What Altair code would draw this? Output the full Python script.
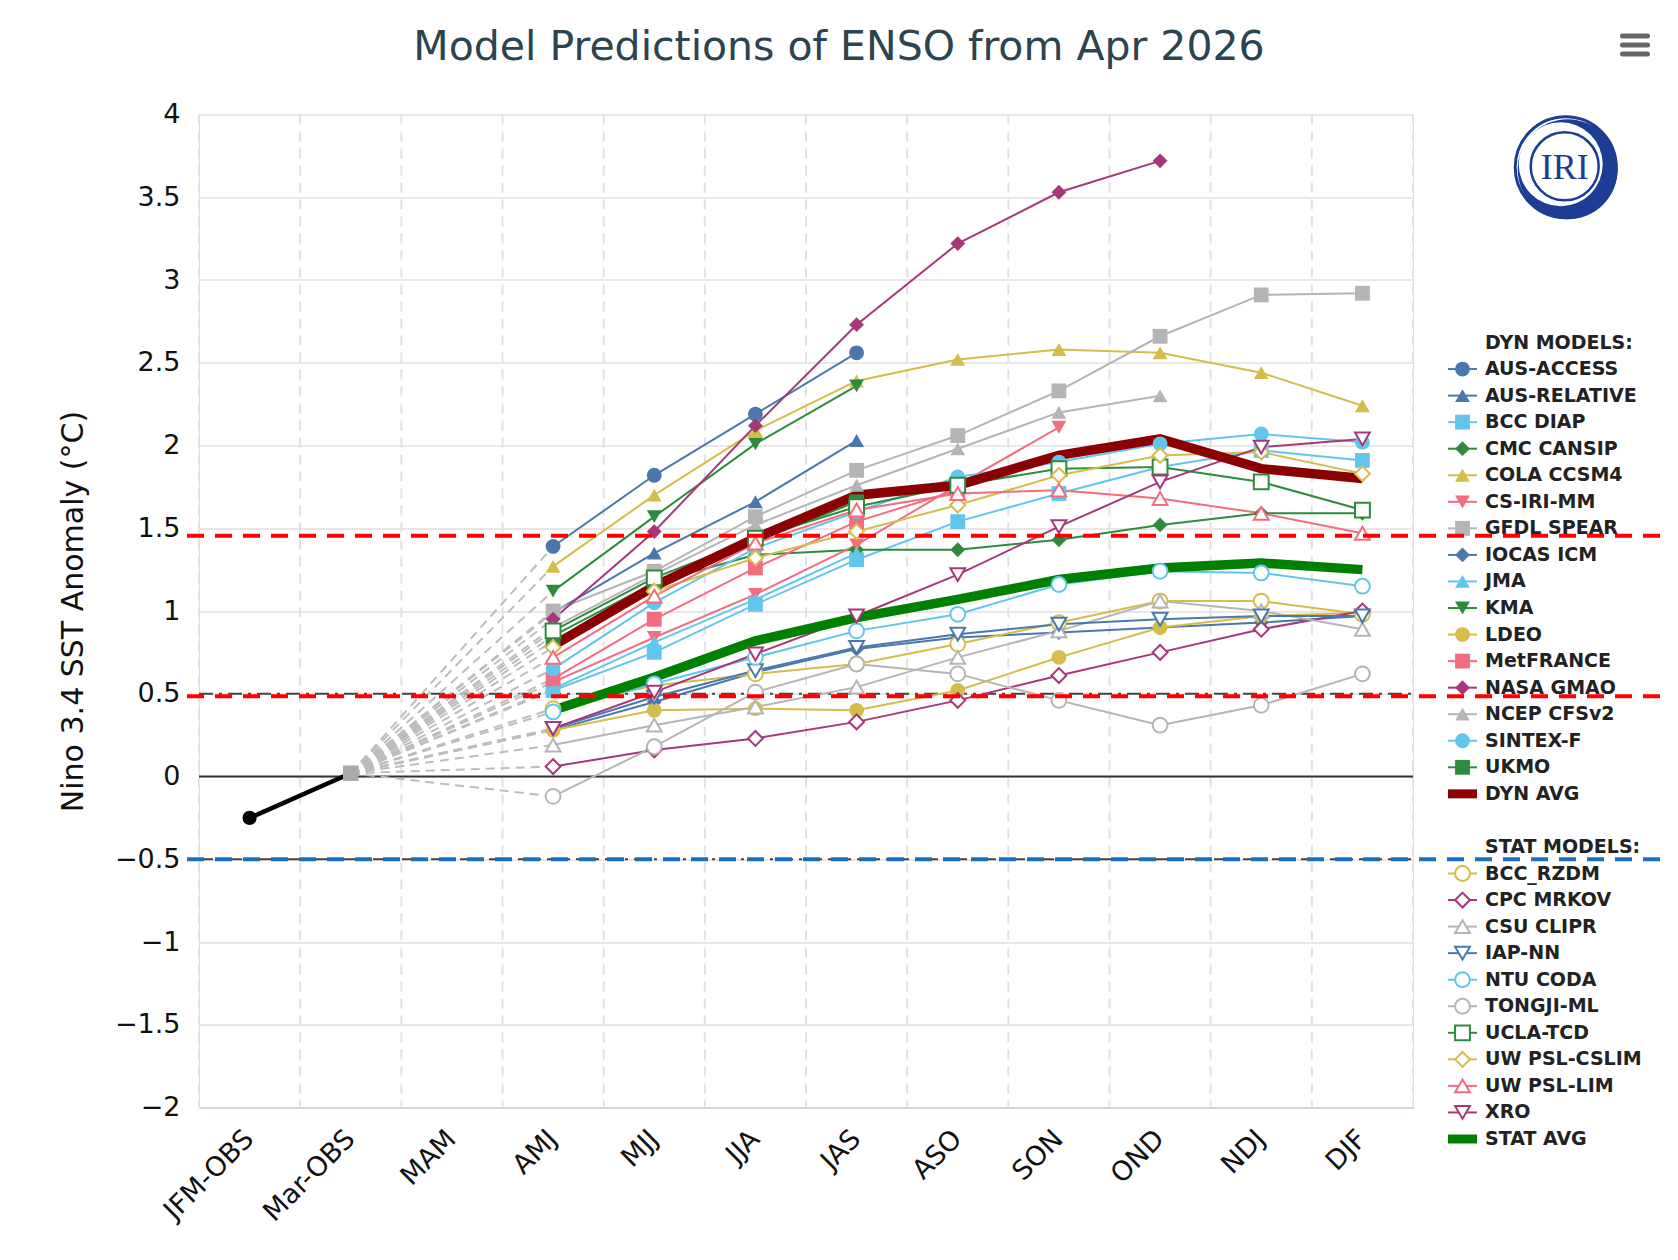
import altair as alt
import pandas as pd

# ---------------- data ----------------
seasons = ["JFM-OBS", "Mar-OBS", "MAM", "AMJ", "MJJ", "JJA", "JAS", "ASO", "SON", "OND", "NDJ", "DJF"]
forecast_seasons = ["AMJ", "MJJ", "JJA", "JAS", "ASO", "SON", "OND", "NDJ", "DJF"]
obs_seasons = ["JFM-OBS", "Mar-OBS"]
obs_values = [-0.25, 0.02]

BLUE, CYAN, GREEN, YELLOW = "#4a78ad", "#62c6ec", "#2e8b3e", "#d4bd4a"
PINK, GRAY, MAGENTA = "#f26d80", "#b5b5b5", "#a8367a"

dyn_models = ["AUS-ACCESS", "AUS-RELATIVE", "BCC DIAP", "CMC CANSIP", "COLA CCSM4", "CS-IRI-MM",
              "GFDL SPEAR", "IOCAS ICM", "JMA", "KMA", "LDEO", "MetFRANCE", "NASA GMAO",
              "NCEP CFSv2", "SINTEX-F", "UKMO"]
dyn_values = [
    [1.39, 1.82, 2.19, 2.56],
    [0.99, 1.35, 1.66, 2.03],
    [0.52, 0.75, 1.04, 1.31, 1.54, 1.71, 1.87, 1.97, 1.91],
    [0.85, 1.17, 1.34, 1.37, 1.37, 1.43, 1.52, 1.59, 1.59],
    [1.27, 1.70, 2.09, 2.39, 2.52, 2.58, 2.56, 2.44, 2.24],
    [0.57, 0.84, 1.10, 1.40, 1.76, 2.11],
    [1.00, 1.24, 1.57, 1.85, 2.06, 2.33, 2.66, 2.91, 2.92],
    [0.28, 0.45, 0.63, 0.77, 0.84, 0.87, 0.90, 0.93, 0.97],
    [0.53, 0.81, 1.07, 1.35],
    [1.12, 1.57, 2.01, 2.36],
    [0.28, 0.40, 0.41, 0.40, 0.52, 0.72, 0.90, 0.97, 0.99],
    [0.59, 0.95, 1.26, 1.54, 1.73],
    [0.95, 1.48, 2.12, 2.73, 3.22, 3.53, 3.72],
    [0.90, 1.22, 1.52, 1.76, 1.98, 2.20, 2.30],
    [0.65, 1.05, 1.38, 1.60, 1.81, 1.90, 2.01, 2.07, 2.02],
    [0.82, 1.15, 1.42, 1.66],
]
dyn_colors = [BLUE, BLUE, CYAN, GREEN, YELLOW, PINK, GRAY, BLUE, CYAN, GREEN, YELLOW, PINK,
              MAGENTA, GRAY, CYAN, GREEN]
dyn_shapes = ["circle", "triangle-up", "square", "diamond", "triangle-up", "triangle-down", "square",
              "diamond", "triangle-up", "triangle-down", "circle", "square", "diamond", "triangle-up",
              "circle", "square"]

stat_models = ["BCC_RZDM", "CPC MRKOV", "CSU CLIPR", "IAP-NN", "NTU CODA", "TONGJI-ML",
               "UCLA-TCD", "UW PSL-CSLIM", "UW PSL-LIM", "XRO"]
stat_values = [
    [0.41, 0.55, 0.62, 0.68, 0.80, 0.93, 1.06, 1.06, 0.98],
    [0.06, 0.16, 0.23, 0.33, 0.46, 0.61, 0.75, 0.89, 1.00],
    [0.19, 0.31, 0.42, 0.54, 0.72, 0.88, 1.06, 1.00, 0.89],
    [0.29, 0.48, 0.64, 0.78, 0.86, 0.92, 0.95, 0.97, 0.97],
    [0.39, 0.56, 0.72, 0.88, 0.98, 1.16, 1.24, 1.23, 1.15],
    [-0.12, 0.18, 0.51, 0.68, 0.62, 0.46, 0.31, 0.43, 0.62],
    [0.88, 1.20, 1.44, 1.63, 1.76, 1.86, 1.87, 1.78, 1.61],
    [0.78, 1.12, 1.32, 1.48, 1.64, 1.82, 1.94, 1.96, 1.83],
    [0.72, 1.09, 1.41, 1.61, 1.71, 1.73, 1.68, 1.59, 1.47],
    [0.29, 0.51, 0.74, 0.97, 1.22, 1.51, 1.78, 1.99, 2.04],
]
stat_colors = [YELLOW, MAGENTA, GRAY, BLUE, CYAN, GRAY, GREEN, YELLOW, PINK, MAGENTA]
stat_shapes = ["circle", "diamond", "triangle-up", "triangle-down", "circle", "circle", "square",
               "diamond", "triangle-up", "triangle-down"]

avg_names = ["DYN AVG", "STAT AVG"]
avg_values = [
    [0.79, 1.15, 1.44, 1.70, 1.76, 1.94, 2.04, 1.86, 1.80],
    [0.40, 0.60, 0.82, 0.96, 1.07, 1.19, 1.26, 1.29, 1.25],
]
avg_colors = ["#8b0000", "#008000"]

y_ticks = [4, 3.5, 3, 2.5, 2, 1.5, 1, 0.5, 0, -0.5, -1, -1.5, -2]
enso_thresholds = [0.5, -0.5]
red_marks = [1.455, 0.485]
blue_marks = [-0.5]

title_text = "Model Predictions of ENSO from Apr 2026"
y_title = "Nino 3.4 SST Anomaly (°C)"

# ---------------- tables ----------------
line_rows = []
for names, vals in ((dyn_models, dyn_values), (stat_models, stat_values)):
    for n, vs in zip(names, vals):
        for i, (s, v) in enumerate(zip(forecast_seasons, vs)):
            line_rows.append({"series": n, "season": s, "value": v, "idx": i})
lines_df = pd.DataFrame(line_rows)
dyn_df = lines_df[lines_df.series.isin(dyn_models)]
stat_df = lines_df[lines_df.series.isin(stat_models)]

avg_rows = []
for n, vs in zip(avg_names, avg_values):
    for i, (s, v) in enumerate(zip(forecast_seasons, vs)):
        avg_rows.append({"series": n, "season": s, "value": v, "idx": i})
avg_df = pd.DataFrame(avg_rows)

fan_rows = []
for names, vals in ((dyn_models, dyn_values), (stat_models, stat_values)):
    for n, vs in zip(names, vals):
        fan_rows.append({"series": n, "season": obs_seasons[-1], "value": obs_values[-1], "idx": 0})
        fan_rows.append({"series": n, "season": forecast_seasons[0], "value": vs[0], "idx": 1})
fan_df = pd.DataFrame(fan_rows)

obs_df = pd.DataFrame({"season": obs_seasons, "value": obs_values, "idx": [0, 1]})
grid_df = pd.DataFrame({"season": seasons})
grid_end_df = pd.DataFrame({"season": seasons[-1:]})
enso_df = pd.DataFrame({"value": enso_thresholds})
zero_df = pd.DataFrame({"value": [0]})
red_df = pd.DataFrame({"value": red_marks})
blue_df = pd.DataFrame({"value": blue_marks})

all_names = dyn_models + stat_models + avg_names
all_colors = dyn_colors + stat_colors + avg_colors
model_names = dyn_models + stat_models
model_shapes = dyn_shapes + stat_shapes

# legend table (row index -> position through its own scale)
leg_rows = [{"label": "DYN MODELS:", "row": 0, "series": "", "kind": "header"}]
for i, n in enumerate(dyn_models + [avg_names[0]]):
    leg_rows.append({"label": n, "row": i + 1, "series": n,
                     "kind": "avg" if n in avg_names else "dyn"})
stat_start = len(dyn_models) + 3
leg_rows.append({"label": "STAT MODELS:", "row": stat_start, "series": "", "kind": "header"})
for i, n in enumerate(stat_models + [avg_names[1]]):
    leg_rows.append({"label": n, "row": stat_start + i + 1, "series": n,
                     "kind": "avg" if n in avg_names else "stat"})
leg_df = pd.DataFrame(leg_rows)
leg_last = int(leg_df.row.max())

# ---------------- encodings ----------------
FONT = "DejaVu Sans"
W, H = 1214, 993

x_scale = alt.Scale(type="band", domain=seasons, paddingInner=0, paddingOuter=0)
x_axis = alt.Axis(labelAngle=-45, labelAlign="right", labelBaseline="middle", labelFontSize=27,
                  labelColor="#111", labelPadding=27, ticks=False, tickSize=0,
                  domainColor="#ccd6eb", domainWidth=2, grid=False, labelFont=FONT)
y_scale = alt.Scale(domain=[-2, 4], nice=False, zero=False)
y_axis = alt.Axis(values=y_ticks, format=".1~f", labelFontSize=27, labelColor="#111",
                  labelPadding=19, ticks=False, domain=False, grid=True, gridColor="#e8e8e8",
                  gridWidth=2, labelFont=FONT, titleFont=FONT, titleFontSize=30,
                  titleFontWeight="normal", titleColor="#111", titleX=-126, titleY=H / 2,
                  titleAngle=270, titleAlign="center", titleBaseline="middle")


def X(field="season", **kw):
    return alt.X(f"{field}:N", scale=x_scale, axis=x_axis, title=None, **kw)


def Y(field="value"):
    return alt.Y(f"{field}:Q", scale=y_scale, axis=y_axis, title=y_title)


color_enc = alt.Color("series:N", scale=alt.Scale(domain=all_names, range=all_colors), legend=None)
stroke_enc = alt.Stroke("series:N", scale=alt.Scale(domain=all_names, range=all_colors), legend=None)
shape_enc = alt.Shape("series:N", scale=alt.Scale(domain=model_names, range=model_shapes), legend=None)

MS = 220  # marker size

grid = alt.Chart(grid_df).mark_rule(color="#e2e2e2", strokeWidth=2, strokeDash=[10, 7]).encode(
    x=X(bandPosition=0))
grid_end = alt.Chart(grid_end_df).mark_rule(color="#e2e2e2", strokeWidth=2, strokeDash=[10, 7]).encode(
    x=X(bandPosition=1))
enso = alt.Chart(enso_df).mark_rule(color="#444", strokeWidth=2, strokeDash=[14, 6, 3, 6]).encode(
    y=Y(), x=alt.value(0), x2=alt.value(W))
zero = alt.Chart(zero_df).mark_rule(color="#333", strokeWidth=2).encode(
    y=Y(), x=alt.value(0), x2=alt.value(W))
fan = alt.Chart(fan_df).mark_line(color="#bdbdbd", strokeWidth=2, strokeDash=[9, 6]).encode(
    x=X(), y=Y(), detail="series:N", order="idx:Q")
obs_line = alt.Chart(obs_df).mark_line(color="#000", strokeWidth=4.5).encode(
    x=X(), y=Y(), order="idx:Q")
model_lines = alt.Chart(lines_df).mark_line(strokeWidth=2).encode(
    x=X(), y=Y(), color=color_enc, order="idx:Q")
avg_lines = alt.Chart(avg_df).mark_line(strokeWidth=9.5).encode(
    x=X(), y=Y(), color=color_enc, order="idx:Q")
pts_filled = alt.Chart(dyn_df).mark_point(filled=True, opacity=1, size=MS).encode(
    x=X(), y=Y(), color=color_enc, shape=shape_enc)
pts_open = alt.Chart(stat_df).mark_point(filled=False, fill="white", fillOpacity=1, opacity=1,
                                          strokeWidth=2, size=MS).encode(
    x=X(), y=Y(), stroke=stroke_enc, shape=shape_enc)
obs_pt0 = alt.Chart(obs_df.iloc[:1]).mark_point(filled=True, opacity=1, size=200, shape="circle",
                                               color="#000").encode(x=X(), y=Y())
obs_pt1 = alt.Chart(obs_df.iloc[1:]).mark_point(filled=True, opacity=1, size=240, shape="square",
                                               color="#aaaaaa").encode(x=X(), y=Y())

main = alt.layer(grid, grid_end, enso, zero, fan, obs_line, model_lines, avg_lines,
                 pts_filled, pts_open, obs_pt0, obs_pt1)

# ---------------- legend + decorations ----------------
leg_scale = alt.Scale(domain=[0, leg_last], range=[228, 1024.5])
LY = alt.Y("row:Q", scale=leg_scale, axis=None)
one = pd.DataFrame({"k": [0]})

leg_models = leg_df[leg_df.kind.isin(["dyn", "stat"])]
leg_line = alt.Chart(leg_models).mark_rule(strokeWidth=2).encode(
    y=LY, x=alt.value(1249), x2=alt.value(1278), color=color_enc)
leg_avg = alt.Chart(leg_df[leg_df.kind == "avg"]).mark_rule(strokeWidth=9).encode(
    y=LY, x=alt.value(1249), x2=alt.value(1278), color=color_enc)
leg_fill = alt.Chart(leg_df[leg_df.kind == "dyn"]).mark_point(filled=True, opacity=1, size=MS).encode(
    y=LY, x=alt.value(1263.5), color=color_enc, shape=shape_enc)
leg_open = alt.Chart(leg_df[leg_df.kind == "stat"]).mark_point(
    filled=False, fill="white", fillOpacity=1, opacity=1, strokeWidth=2, size=MS).encode(
    y=LY, x=alt.value(1263.5), stroke=stroke_enc, shape=shape_enc)
leg_text = alt.Chart(leg_df).mark_text(align="left", baseline="middle", fontSize=19, fontWeight="bold",
                                       color="#222", font=FONT).encode(
    y=LY, x=alt.value(1286), text="label:N")

title = alt.Chart(one).mark_text(align="center", baseline="alphabetic", fontSize=41, color="#2c4350",
                                 font=FONT).encode(x=alt.value(640), y=alt.value(-54.5),
                                                   text=alt.value(title_text))

LOGO = "#1d3d95"
cx, cy = 1366.7, 52.8
logo_ring = alt.Chart(one).mark_point(shape="circle", size=101 ** 2, filled=False, opacity=1,
                                      stroke=LOGO, strokeWidth=3).encode(x=alt.value(cx), y=alt.value(cy))
logo_blue = alt.Chart(one).mark_point(shape="circle", size=100 ** 2, filled=True, opacity=1,
                                      color=LOGO).encode(x=alt.value(cx + 2), y=alt.value(cy + 2))
logo_white = alt.Chart(one).mark_point(shape="circle", size=84 ** 2, filled=True, opacity=1,
                                       color="white").encode(x=alt.value(cx - 5), y=alt.value(cy - 3))
logo_inner = alt.Chart(one).mark_point(shape="circle", size=68 ** 2, filled=False, opacity=1,
                                       stroke=LOGO, strokeWidth=2.5).encode(x=alt.value(cx - 1), y=alt.value(cy - 1))
logo_text = alt.Chart(one).mark_text(align="center", baseline="alphabetic", fontSize=36,
                                     font="Liberation Serif", color=LOGO).encode(
    x=alt.value(cx - 1), y=alt.value(cy + 12), text=alt.value("IRI"))

menu = [alt.Chart(one).mark_rule(color="#666", strokeWidth=5, strokeCap="round").encode(
    x=alt.value(1423.5), x2=alt.value(1448.5), y=alt.value(yy)) for yy in (-78.5, -69.5, -60.5)]

legend = alt.layer(leg_line, leg_avg, leg_fill, leg_open, leg_text, title,
                   logo_ring, logo_blue, logo_white, logo_inner, logo_text, *menu)

# ---------------- overlay threshold lines ----------------
OY = alt.Y("value:Q", scale=y_scale, axis=None)
red = alt.Chart(red_df).mark_rule(color="#ff0000", strokeWidth=4, strokeDash=[17, 11]).encode(
    y=OY, x=alt.value(-12), x2=alt.value(1479))
blue = alt.Chart(blue_df).mark_rule(color="#1a6fc2", strokeWidth=4, strokeDash=[17, 11]).encode(
    y=OY, x=alt.value(-12), x2=alt.value(1479))
overlay = alt.layer(red, blue)

chart = alt.layer(main, legend, overlay).resolve_scale(y="independent").properties(
    width=W, height=H,
    autosize=alt.AutoSizeParams(type="none"),
    padding={"left": 191, "top": 106.5, "right": 257, "bottom": 144},
).configure_view(stroke=None).configure(font=FONT)

chart.save("out.html", embed_options={"renderer": "svg", "actions": False})
